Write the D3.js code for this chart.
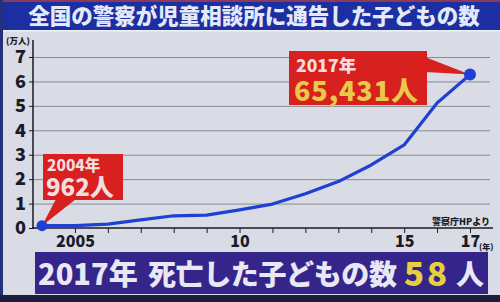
<!DOCTYPE html>
<html>
<head>
<meta charset="utf-8">
<script src="https://cdn.jsdelivr.net/npm/d3@7"></script>
<style>
  html, body { margin: 0; padding: 0; background: #d9dce4; }
  svg { display: block; }
  text { font-family: "Noto Sans CJK JP", "Noto Sans", sans-serif; font-weight: 900; }
</style>
</head>
<body>
<script>
// data (万人)
const years = [2004, 2005, 2006, 2007, 2008, 2009, 2010, 2011, 2012, 2013, 2014, 2015, 2016, 2017];
const counts = [0.096, 0.10, 0.16, 0.33, 0.50, 0.53, 0.74, 0.98, 1.40, 1.90, 2.58, 3.40, 5.12, 6.28];
const yTicks = [0, 1, 2, 3, 4, 5, 6, 7];
const xTicks = [2005, 2006, 2007, 2008, 2009, 2010, 2011, 2012, 2013, 2014, 2015, 2016, 2017];
const xLabels = { 2005: '2005', 2010: '10', 2015: '15', 2017: '17' };

const W = 500, H = 302;
const svg = d3.select('body').append('svg').attr('width', W).attr('height', H);

// background pieces
svg.append('rect').attr('width', W).attr('height', H).attr('fill', '#d9dce4');
svg.append('rect').attr('width', W).attr('height', 30).attr('fill', '#1b2fa3');
svg.append('rect').attr('width', W).attr('height', 2).attr('fill', '#8a3a5a');
svg.append('rect').attr('y', 30).attr('width', W).attr('height', 1.5).attr('fill', '#eef0f6');
svg.append('rect').attr('width', 3).attr('height', H).attr('fill', '#24307a');
svg.append('rect').attr('y', 295).attr('width', W).attr('height', 7).attr('fill', '#1c1c3c');

svg.append('text')
    .attr('x', 254).attr('y', 24)
    .attr('text-anchor', 'middle')
    .attr('font-size', 21.5)
    .attr('fill', '#e4e9f7')
    .text('全国の警察が児童相談所に通告した子どもの数');

const x = d3.scaleLinear().domain([2004, 2017]).range([42, 470]);
const y = d3.scaleLinear().domain([0, 7]).range([228, 57]);

// grid
svg.append('g')
    .attr('transform', 'translate(33,0)')
    .call(d3.axisRight(y).tickValues(yTicks.slice(1)).tickSize(457).tickFormat(''))
    .call(g => g.select('.domain').remove())
    .call(g => g.selectAll('line').attr('stroke', '#858a98').attr('stroke-width', 1));

// y axis
svg.append('g')
    .attr('transform', 'translate(33,0)')
    .call(d3.axisLeft(y).tickValues(yTicks).tickSize(4).tickPadding(3).tickSizeOuter(0).tickFormat(d3.format('d')))
    .call(g => g.select('.domain').attr('d', 'M0,40V229').attr('stroke', '#1a1a26').attr('stroke-width', 1.5))
    .call(g => g.selectAll('line').attr('stroke', '#1a1a26'))
    .call(g => g.selectAll('text').attr('font-size', 18).attr('fill', '#1a1a28')
        .attr('font-family', '"Liberation Sans", Arial, sans-serif').attr('font-weight', 'bold'));

svg.append('text').attr('x', 6).attr('y', 44).attr('font-size', 8.5).attr('fill', '#1a1a28').text('(万人)');

// x axis
svg.append('g')
    .attr('transform', 'translate(0,228)')
    .call(d3.axisBottom(x).tickValues(xTicks).tickSize(5).tickPadding(3).tickSizeOuter(0)
        .tickFormat(d => xLabels[d] || ''))
    .call(g => g.select('.domain').attr('d', 'M32,0H493').attr('stroke', '#1a1a26').attr('stroke-width', 1.5))
    .call(g => g.selectAll('line').attr('stroke', '#1a1a26'))
    .call(g => g.selectAll('text').attr('font-size', 16).attr('fill', '#1a1a28')
        .attr('font-family', '"Liberation Sans", Arial, sans-serif').attr('font-weight', 'bold'));

svg.append('text').attr('x', 479).attr('y', 250).attr('font-size', 8).attr('fill', '#1a1a28').text('(年)');
svg.append('text').attr('x', 490).attr('y', 225).attr('text-anchor', 'end')
    .attr('font-size', 9).attr('font-weight', 700).attr('fill', '#1a1a28').text('警察庁HPより');

// line
const line = d3.line().x((d, i) => x(years[i])).y(d => y(d));
svg.append('path')
    .attr('d', line(counts))
    .attr('fill', 'none')
    .attr('stroke', '#2040d4')
    .attr('stroke-width', 3.2)
    .attr('stroke-linejoin', 'round');

// annotation 2004
const p0 = [x(years[0]), y(counts[0])];
svg.append('path')
    .attr('d', `M56,199L${p0[0]},${p0[1]}L76,199Z`)
    .attr('fill', '#d8201e');
svg.append('rect').attr('x', 43).attr('y', 154).attr('width', 80).attr('height', 46).attr('fill', '#d8201e');
svg.append('text').attr('x', 47).attr('y', 171).attr('font-size', 15.5).attr('fill', '#f2dde0').text('2004年');
svg.append('text').attr('x', 46).attr('y', 196).attr('font-size', 24).attr('fill', '#f2dde0').text('962人');

// annotation 2017
const p1 = [x(years[years.length - 1]), y(counts[counts.length - 1])];
svg.append('path')
    .attr('d', `M425,57L${p1[0]},${p1[1]}L425,72Z`)
    .attr('fill', '#d8201e');
svg.append('rect').attr('x', 289).attr('y', 51).attr('width', 138).attr('height', 54).attr('fill', '#d8201e');
svg.append('text').attr('x', 296).attr('y', 72).attr('font-size', 17.5).attr('fill', '#f2dde0').text('2017年');
svg.append('text').attr('x', 294).attr('y', 101).attr('font-size', 27).attr('fill', '#e8c94a')
    .attr('textLength', 124).text('65,431人');

// endpoints
svg.append('circle').attr('cx', p0[0]).attr('cy', p0[1]).attr('r', 5.5).attr('fill', '#2040d4');
svg.append('circle').attr('cx', p1[0]).attr('cy', p1[1]).attr('r', 6).attr('fill', '#2040d4');

// bottom banner
svg.append('rect').attr('x', 35).attr('y', 252).attr('width', 453).attr('height', 42).attr('fill', '#35258a');
svg.append('text').attr('x', 38).attr('y', 285).attr('font-size', 29).attr('fill', '#e8e8f4').text('2017年');
svg.append('text').attr('x', 148).attr('y', 285).attr('font-size', 28).attr('fill', '#e8e8f4')
    .attr('textLength', 249).attr('lengthAdjust', 'spacing').text('死亡した子どもの数');
svg.append('text').attr('x', 404).attr('y', 286).attr('font-size', 33).attr('fill', '#e6d040')
    .attr('textLength', 43).text('58');
svg.append('text').attr('x', 456).attr('y', 285).attr('font-size', 28).attr('fill', '#e8e8f4').text('人');
</script>
</body>
</html>
